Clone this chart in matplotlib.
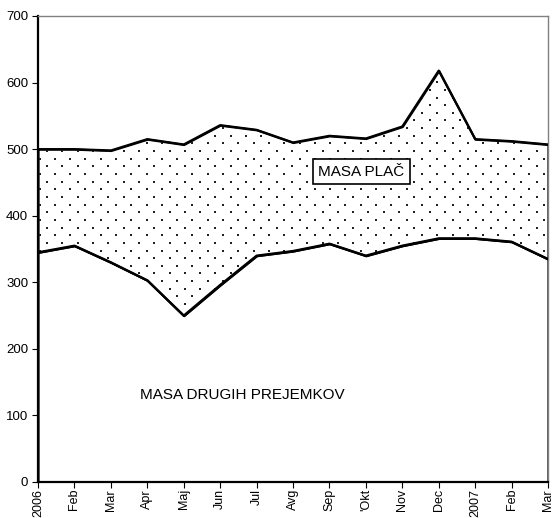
import numpy as np
import matplotlib
matplotlib.use("Agg")
import matplotlib.pyplot as plt

plt.rcParams["font.family"] = ["Liberation Sans", "DejaVu Sans"]

months = ["2006", "Feb", "Mar", "Apr", "Maj", "Jun", "Jul", "Avg", "Sep",
          "'Okt", "Nov", "Dec", "2007", "Feb", "Mar"]
drugi = [345, 355, 330, 303, 250, 296, 340, 347, 358, 340, 355, 366, 366, 361, 335]
skupaj = [500, 500, 498, 515, 507, 536, 529, 510, 520, 516, 534, 618, 515, 512, 507]

x = np.arange(len(months))

fig = plt.figure(figsize=(5.55, 5.18), dpi=100)
ax = fig.add_axes([38 / 555, 1 - 482 / 518, 510 / 555, 466 / 518])

# bottom area (white, black outline)
ax.fill_between(x, 0, drugi, facecolor="white", edgecolor="black", linewidth=1.6, zorder=2)
# top area (dotted)
top = ax.fill_between(x, drugi, skupaj, facecolor="white", edgecolor="black",
                      linewidth=1.6, zorder=2)

# dotted texture, clipped to the top area
fig.canvas.draw()
bb = ax.get_window_extent()
px = np.arange(bb.x0 + 1.5, bb.x1, 15.3)
py = np.arange(bb.y0 + 2.0, bb.y1, 7.65)
gx, gy = [], []
for i, yy in enumerate(py):
    off = 0 if i % 2 == 0 else 7.65
    gx.extend(px + off)
    gy.extend([yy] * len(px))
dots = ax.scatter(gx, gy, s=1.5, marker="s", color="#222222", linewidths=0,
                  transform=None, zorder=2.5)
dots.set_clip_path(top.get_paths()[0], ax.transData)

ax.plot(x, skupaj, color="black", linewidth=1.6, zorder=3)
ax.plot(x, drugi, color="black", linewidth=1.6, zorder=3)

ax.set_xlim(0, len(months) - 1)
ax.set_ylim(0, 700)
ax.set_yticks(range(0, 701, 100))
ax.set_xticks(x)
ax.set_xticklabels(months, rotation=90, fontsize=9)
ax.tick_params(axis="y", labelsize=9.5, length=4, direction="out", pad=3)
ax.tick_params(axis="x", length=4, direction="out", pad=1)

for s in ["top", "right"]:
    ax.spines[s].set_color("#808080")
    ax.spines[s].set_linewidth(1.0)
for s in ["left", "bottom"]:
    ax.spines[s].set_color("black")
    ax.spines[s].set_linewidth(1.6)

ax.text(8.87, 466, "MASA PLAČ", fontsize=11, ha="center", va="center", zorder=4,
        bbox=dict(boxstyle="square,pad=0.35", facecolor="white", edgecolor="black", linewidth=1.2))
ax.text(5.6, 130, "MASA DRUGIH PREJEMKOV", fontsize=11, ha="center", va="center", zorder=4)

fig.savefig("out.png", dpi=100)
